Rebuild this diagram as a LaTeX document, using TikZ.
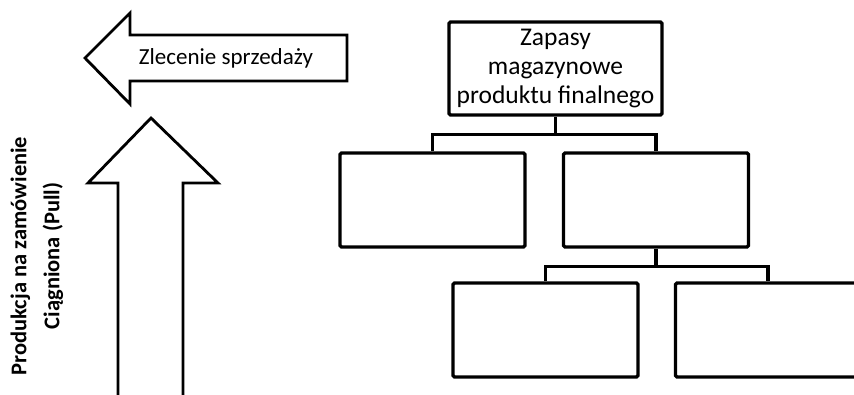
\documentclass[tikz,border=0pt]{standalone}
\usepackage{fontspec}
\setmainfont{Carlito}
\usetikzlibrary{positioning}
\tikzset{
    box/.style={draw, line width=3.3pt, rounded corners=1.5pt, minimum width=185pt, minimum height=94pt, inner sep=0pt},
    link/.style={line width=3.3pt},
    bigarrow/.style={draw, line width=2.8pt, fill=white}
}

\begin{document}
\begin{tikzpicture}[x=1pt,y=-1pt]
        \clip (0,0) rectangle (854,394);
        % left and up arrows
        \draw[bigarrow] (85,58) -- (130,13) -- (130,35) -- (347,35) -- (347,81) -- (130,81) -- (130,104) -- cycle;
        \draw (226,58) node[font=\fontsize{23}{27}\selectfont](order){Zlecenie sprzedaży};
        \draw[bigarrow] (151,118) -- (218,183) -- (183,183) -- (183,410) -- (118,410) -- (118,183) -- (88,183) -- cycle;
        \draw (37,256) node[rotate=90, align=center, font=\bfseries\fontsize{22.5}{33}\selectfont](pull){Produkcja na zamówienie\\Ciągniona (Pull)};

        % tree of boxes
        \draw (555.5,68.5) node[box, minimum width=213pt, minimum height=93pt, align=center, font=\fontsize{25.5}{29}\selectfont](stock){Zapasy\\magazynowe\\produktu finalnego};
        \draw (432.5,200) node[box](left){};
        \draw (656,200) node[box](right){};
        \draw (545.5,330) node[box](rl){};
        \draw (768,330) node[box](rr){};

        \draw[link] (stock.south) -- ++(0,18) coordinate(j1);
        \draw[link] (left.north) |- (j1) -| (right.north);
        \draw[link] (right.south) -- ++(0,18) coordinate(j2);
        \draw[link] (rl.north) |- (j2) -| (rr.north);
    \end{tikzpicture}
\end{document}
